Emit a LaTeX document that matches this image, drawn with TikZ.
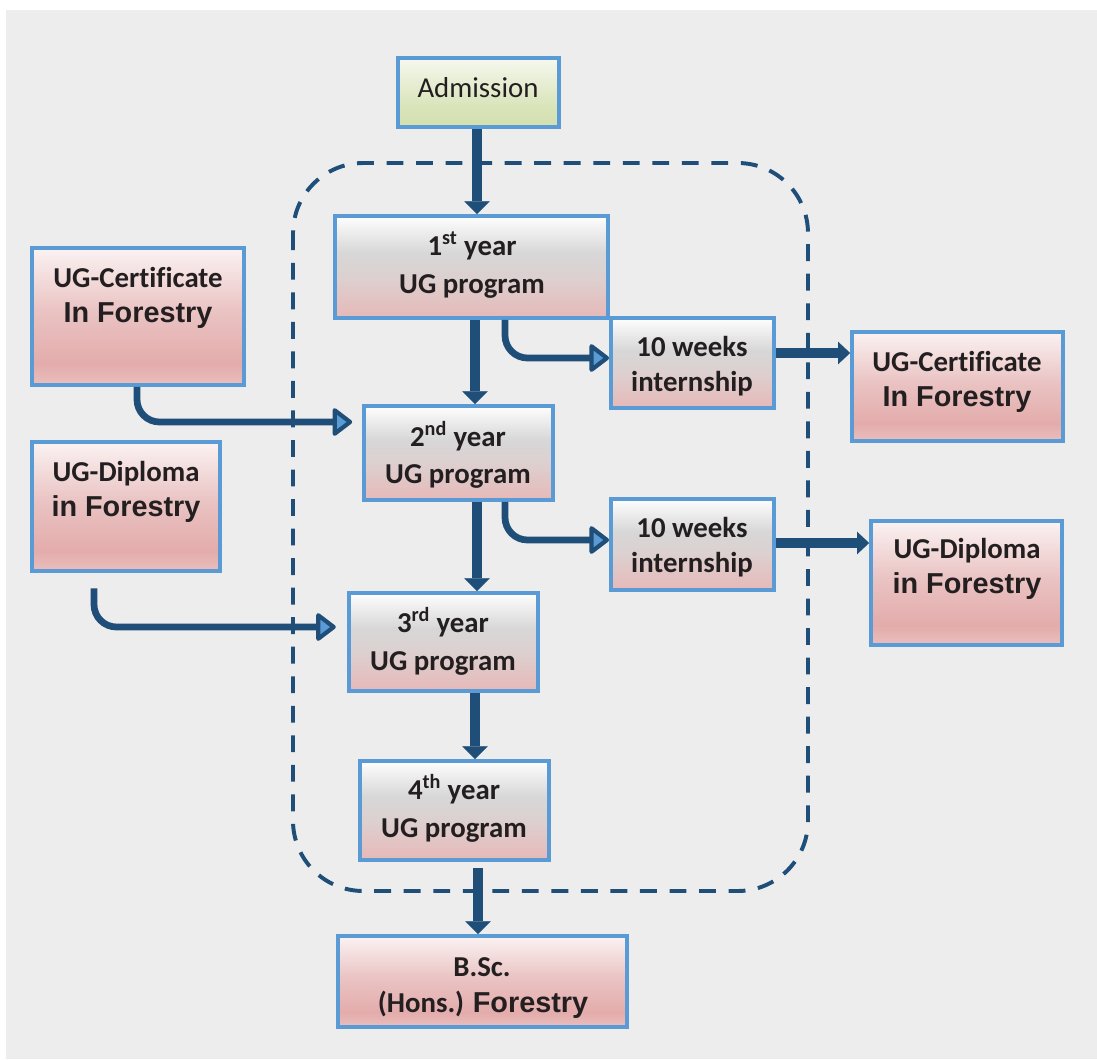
\documentclass[tikz,border=0pt]{standalone}
\usepackage{fontspec}
\setmainfont{Carlito}[Ligatures=NoCommon]
\newfontfamily\arialf{Liberation Sans}
\usetikzlibrary{arrows.meta,fit}
\definecolor{bgc}{HTML}{EDEDED}
\definecolor{bordc}{HTML}{5B9BD5}
\definecolor{arrc}{HTML}{1F4E79}
\definecolor{txtc}{HTML}{231F20}
\definecolor{ybot}{HTML}{E6B9B8}
\definecolor{ymid}{HTML}{DDD0D0}
\definecolor{ygray}{HTML}{D7D7D7}
\definecolor{ytop}{HTML}{FEFEFE}
\definecolor{pbot}{HTML}{E9BEBD}
\definecolor{pdeep}{HTML}{E3ACAB}
\definecolor{pmid}{HTML}{EAC3C3}
\definecolor{ptop}{HTML}{FBF2F2}
\definecolor{gbot}{HTML}{D3DFAE}
\definecolor{gmid}{HTML}{D9E4BA}
\definecolor{gtop}{HTML}{F6F8EE}
\pgfdeclareverticalshading{yearshade}{100bp}{color(0bp)=(ybot); color(25bp)=(ybot); color(45bp)=(ymid); color(57bp)=(ygray); color(75bp)=(ytop); color(100bp)=(ytop)}
\pgfdeclareverticalshading{pinkshade}{100bp}{color(0bp)=(pbot); color(25bp)=(pbot); color(33bp)=(pdeep); color(52bp)=(pmid); color(75bp)=(ptop); color(100bp)=(ptop)}
\pgfdeclareverticalshading{greenshade}{100bp}{color(0bp)=(gbot); color(25bp)=(gbot); color(40bp)=(gmid); color(75bp)=(gtop); color(100bp)=(gtop)}
\tikzset{
  box/.style={draw=bordc, line width=2.8pt, inner sep=0pt, shade},
  yearbox/.style={box, shading=yearshade},
  pinkbox/.style={box, shading=pinkshade},
  greenbox/.style={box, shading=greenshade},
  txt/.style={text=txtc, font=\fontsize{20.5}{24}\selectfont\bfseries, anchor=base, inner sep=0pt},
  txtr/.style={text=txtc, font=\fontsize{20.5}{24}\selectfont, anchor=base, inner sep=0pt},
  mainarr/.style={draw=arrc, line width=7.4pt, -{Triangle[width=18pt,length=9pt,line width=0.1pt]}},
  sidearr/.style={draw=arrc, line width=7.8pt, -{Triangle[width=16pt,length=8.5pt,line width=0.1pt]}},
  bendarr/.style={draw=arrc, line width=4.8pt, rounded corners=16pt, -{Triangle[width=22pt,length=15pt,fill=bordc,line width=3pt,round]}},
  frame/.style={draw=arrc, line width=2.8pt, dash pattern=on 12pt off 9pt, rounded corners=50pt},
}
\begin{document}
\begin{tikzpicture}[x=0.025cm, y=-0.025cm]
\useasboundingbox (0,0) rectangle (1097,1059);
\fill[white] (0,0) rectangle (1097,1059);
\fill[bgc] (6,10) rectangle (1097,1059);
% dashed frame
\draw[frame] (293,163) rectangle (808,891);
% boxes
\node[greenbox, fit={(398,58) (559,127)}] (adm) {};
\node[yearbox, fit={(335,216) (608,318)}] (y1) {};
\node[yearbox, fit={(611,318) (774,408)}] (int1) {};
\node[pinkbox, fit={(852,332) (1063,441)}] (cR) {};
\node[pinkbox, fit={(32,248) (244,385)}] (cL) {};
\node[yearbox, fit={(364,406) (553,500)}] (y2) {};
\node[pinkbox, fit={(32,442) (220,571)}] (dL) {};
\node[yearbox, fit={(611,499) (774,590)}] (int2) {};
\node[pinkbox, fit={(871,521) (1062,645)}] (dR) {};
\node[yearbox, fit={(349,593) (538,691)}] (y3) {};
\node[yearbox, fit={(360,761) (549,860)}] (y4) {};
\node[pinkbox, fit={(338,936) (627,1027)}] (bsc) {};
% texts
\node[txtr] (admt) at (478,97) {Admission};
\node[txt] (y1a) at (472,255) {1\textsuperscript{st} year};
\node[txt] (y1b) at (472,293) {UG program};
\node[txt] (cLa) at (138,287) {UG-Certificate};
\node[txt] (cLb) at (138,322) {\arialf In Forestry};
\node[txt] (dLa) at (126,481) {UG-Diploma};
\node[txt] (dLb) at (126,516) {\arialf in Forestry};
\node[txt] (i1a) at (692,356) {10 weeks};
\node[txt] (i1b) at (692,391) {internship};
\node[txt] (i2a) at (692,537) {10 weeks};
\node[txt] (i2b) at (692,572) {internship};
\node[txt] (cRa) at (957,371) {UG-Certificate};
\node[txt] (cRb) at (957,406) {\arialf In Forestry};
\node[txt] (dRa) at (967,558) {UG-Diploma};
\node[txt] (dRb) at (967,593) {\arialf in Forestry};
\node[txt] (y2a) at (458,446) {2\textsuperscript{nd} year};
\node[txt] (y2b) at (458,483) {UG program};
\node[txt] (y3a) at (443,632) {3\textsuperscript{rd} year};
\node[txt] (y3b) at (443,670) {UG program};
\node[txt] (y4a) at (454,799) {4\textsuperscript{th} year};
\node[txt] (y4b) at (454,837) {UG program};
\node[txt] (bsca) at (482,976) {B.Sc.};
\node[txt] (bscb) at (483,1012) {(Hons.) {\arialf Forestry}};
% main arrows
\draw[mainarr] (adm.south -| 477,0) -- (y1.north -| 477,0);
\draw[mainarr] (y1.south -| 475,0) -- (y2.north -| 475,0);
\draw[mainarr] (y2.south -| 477,0) -- (y3.north -| 477,0);
\draw[mainarr] (y3.south -| 475,0) -- (y4.north -| 475,0);
\draw[mainarr, shorten <=4pt] (y4.south -| 478,0) -- (bsc.north -| 478,0);
\draw[sidearr] (int1.east |- 0,353) -- (cR.west |- 0,353);
\draw[sidearr] (int2.east |- 0,543) -- (dR.west |- 0,543);
% bent connectors
\draw[bendarr] (y1.south -| 505,0) |- (int1.west |- 0,358);
\draw[bendarr] (y2.south -| 505,0) |- (int2.west |- 0,540);
\draw[bendarr, shorten >=7pt] (cL.south -| 137,0) |- (y2.west |- 0,422);
\draw[bendarr, shorten <=11pt, shorten >=8pt] (dL.south -| 94,0) |- (y3.west |- 0,627);
\end{tikzpicture}
\end{document}
